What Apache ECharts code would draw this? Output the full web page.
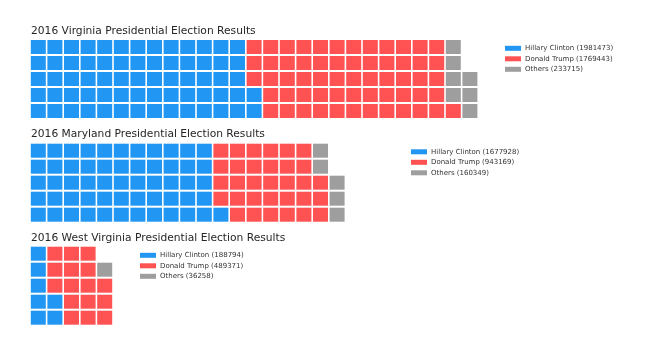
<!DOCTYPE html>
<html>
<head>
<meta charset="utf-8">
<script src="https://cdn.jsdelivr.net/npm/echarts@6/dist/echarts.min.js"></script>
<style>
  html, body { margin: 0; padding: 0; background: #fff; }
  #chart { width: 646px; height: 352px; }
</style>
</head>
<body>
<div id="chart"></div>
<script>
// election data per state
var states = ['Virginia', 'Maryland', 'West Virginia'];
var candidates = ['Hillary Clinton', 'Donald Trump', 'Others'];
var clintonVotes = [1981473, 1677928, 188794];
var trumpVotes = [1769443, 943169, 489371];
var otherVotes = [233715, 160349, 36258];
// number of waffle blocks for each candidate
var clintonBlocks = [67, 56, 7];
var trumpBlocks = [59, 32, 16];
var otherBlocks = [7, 5, 1];
var columns = [27, 19, 5];
var rows = 5;

var colors = ['#2196f3', '#ff5252', '#9e9e9e'];
var font = 'DejaVu Sans';
var pitchX = 16.6, pitchY = 16;
var gridTops = [39, 142.7, 245.7];
var titleTops = [20.5, 124, 227.5];
var legendPos = [[505, 44.8], [411, 148.3], [140, 251.8]];

var chart = echarts.init(document.getElementById('chart'));

var option = {
    animation: false,
    title: [], legend: [], grid: [], xAxis: [], yAxis: [], series: []
};

states.forEach(function (st, i) {
    var counts = [clintonBlocks[i], trumpBlocks[i], otherBlocks[i]];
    var votes = [clintonVotes[i], trumpVotes[i], otherVotes[i]];
    option.title.push({
        text: '2016 ' + st + ' Presidential Election Results',
        left: 26, top: titleTops[i],
        textStyle: { fontFamily: font, fontSize: 10.7, fontWeight: 'normal', color: '#262626' }
    });
    option.grid.push({
        left: 30, top: gridTops[i],
        width: columns[i] * pitchX, height: rows * pitchY
    });
    option.xAxis.push({ type: 'value', gridIndex: i, min: -0.5, max: columns[i] - 0.5, show: false });
    option.yAxis.push({ type: 'value', gridIndex: i, min: -0.5, max: rows - 0.5, show: false });

    // fill column by column, bottom to top, from the left
    var idx = 0;
    var names = [];
    counts.forEach(function (n, c) {
        var pts = [];
        for (var k = 0; k < n; k++, idx++) {
            pts.push([Math.floor(idx / rows), idx % rows]);
        }
        var name = candidates[c] + ' (' + votes[c] + ')';
        names.push(name);
        option.series.push({
            type: 'scatter', name: name,
            xAxisIndex: i, yAxisIndex: i,
            symbol: 'rect', symbolSize: [15, 14],
            itemStyle: { color: colors[c], opacity: 1 },
            emphasis: { disabled: true },
            data: pts
        });
    });

    option.legend.push({
        data: names,
        orient: 'vertical',
        left: legendPos[i][0], top: legendPos[i][1],
        padding: 0,
        icon: 'rect', itemWidth: 16, itemHeight: 5, itemGap: 3.5,
        textStyle: { fontFamily: font, fontSize: 7, color: '#333', padding: [0, 0, 0, -1] },
        selectedMode: false
    });
});

chart.setOption(option);
</script>
</body>
</html>
